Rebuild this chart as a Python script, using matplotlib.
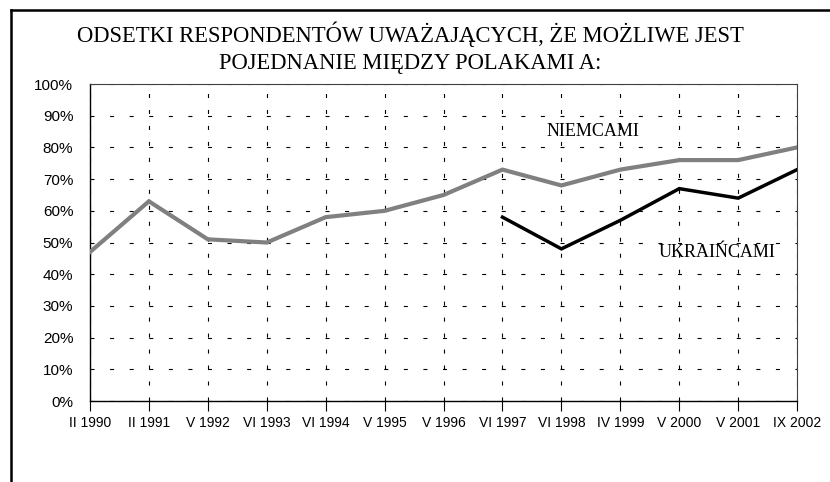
"""Odsetki respondentów uważających, że możliwe jest pojednanie (Niemcy / Ukraińcy)."""

import matplotlib
matplotlib.use("Agg")
import matplotlib.pyplot as plt
from matplotlib.lines import Line2D
from matplotlib.ticker import FuncFormatter

plt.rcParams["lines.scale_dashes"] = False

surveys = ["II 1990", "II 1991", "V 1992", "VI 1993", "VI 1994", "V 1995", "V 1996",
           "VI 1997", "VI 1998", "IV 1999", "V 2000", "V 2001", "IX 2002"]
niemcami = [47, 63, 51, 50, 58, 60, 65, 73, 68, 73, 76, 76, 80]
# Ukrainians asked only from VI 1997 onwards
ukraincami_start = 7
ukraincami = [58, 48, 57, 67, 64, 73]

title = "ODSETKI RESPONDENTÓW UWAŻAJĄCYCH, ŻE MOŻLIWE JEST\nPOJEDNANIE MIĘDZY POLAKAMI A:"

serif = ["Liberation Serif", "DejaVu Serif"]
sans = ["Liberation Sans", "DejaVu Sans"]

fig = plt.figure(figsize=(8.3, 4.82), dpi=100)
ax = fig.add_axes([0.1084, 0.168, 0.852, 0.6577])

x = list(range(len(surveys)))
ax.plot(x, niemcami, color="#808080", lw=3.0, solid_joinstyle="miter", zorder=3)
ax.plot(x[ukraincami_start:], ukraincami, color="black", lw=2.5,
        solid_joinstyle="miter", zorder=3)

ax.set_xlim(0, len(surveys) - 1)
ax.set_ylim(0, 100)
ax.set_xticks(x)
ax.set_xticklabels(surveys, fontfamily=sans, fontsize=10)
ax.set_yticks(range(0, 101, 10))
ax.yaxis.set_major_formatter(FuncFormatter(lambda v, _: f"{v:.0f}%"))
for lab in ax.get_yticklabels():
    lab.set_fontfamily(sans)
    lab.set_fontsize(11)

ax.tick_params(axis="x", direction="out", length=7, width=0.8, pad=4, color="black")
ax.tick_params(axis="y", length=0, pad=12)

ax.yaxis.grid(True, color="black", lw=0.8, linestyle=(0, (2.9, 11.2)))
ax.xaxis.grid(True, color="black", lw=0.8, linestyle=(0, (2.9, 8.6)))
ax.set_axisbelow(True)

for side in ["left", "bottom"]:
    ax.spines[side].set_color("black")
    ax.spines[side].set_linewidth(1.0)
for side in ["top", "right"]:
    ax.spines[side].set_color("#404040")
    ax.spines[side].set_linewidth(0.8)

ax.text(8.54, 85, "NIEMCAMI", fontfamily=serif, fontsize=13, ha="center", va="center")
ax.text(10.65, 47, "UKRAIŃCAMI", fontfamily=serif, fontsize=13, ha="center", va="center")

fig.text(0.494, 1 - 48 / 482, title, fontfamily=serif, fontsize=16.3,
         ha="center", va="center", linespacing=1.38)

# frame: top and left border only
fig.add_artist(Line2D([11 / 830, 1], [1 - 10 / 482, 1 - 10 / 482],
                      transform=fig.transFigure, color="black", lw=1.8))
fig.add_artist(Line2D([11 / 830, 11 / 830], [0, 1 - 10 / 482],
                      transform=fig.transFigure, color="black", lw=1.8))

fig.savefig("out.png", dpi=100)
